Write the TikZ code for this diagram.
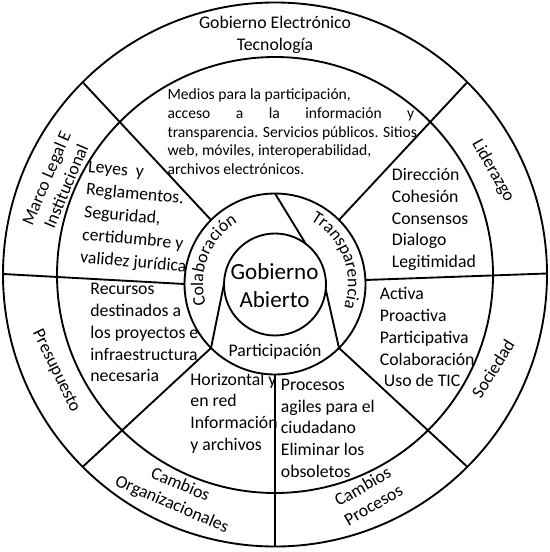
\documentclass[tikz,border=0pt]{standalone}
\usepackage{fontspec}
\setmainfont{Carlito}
\usetikzlibrary{decorations.text}

\newcommand\ringfont{\fontsize{13.3}{16}\selectfont}
\tikzset{every picture/.style={line width=1.4pt}}
\tikzset{
  blocktext/.style={anchor=north west, inner sep=0pt, align=left, font=\fontsize{13.3}{16.3}\selectfont},
  ringtext/.style={anchor=center, inner sep=0pt, align=center, font=\ringfont},
}

\begin{document}
\begin{tikzpicture}[x=0.75pt,y=0.75pt,yscale=-1,xscale=1]
\useasboundingbox (0,0) rectangle (549,552);

%Shape: Circle [id:dp_outer]
\draw (275,274.5) circle (272);
%Shape: Circle [id:dp_second]
\draw (275,275) circle (218);
%Shape: Circle [id:dp_ring]
\draw (275,284) circle (90.5);
%Shape: Circle [id:dp_core]
\draw (275,284.5) circle (51);

%Straight Lines [id:da_ul]
\draw (82.7,82.2) -- (211,220);
%Straight Lines [id:da_ur]
\draw (467.3,82.2) -- (339,220);
%Straight Lines [id:da_ll]
\draw (82.7,466.8) -- (211,348);
%Straight Lines [id:da_lr]
\draw (467.3,466.8) -- (339,348);
%Straight Lines [id:da_l]
\draw (3,274) -- (184.5,284);
%Straight Lines [id:da_r]
\draw (547,273.5) -- (365.3,280);
%Straight Lines [id:da_b]
\draw (275,546.5) -- (275,374.5);

%Straight Lines [id:da_in_top]
\draw (275,193.5) -- (305.2,242.9);
%Straight Lines [id:da_in_left]
\draw (211,348) -- (224,284);
%Straight Lines [id:da_in_right]
\draw (339,348) -- (325.7,289.3);

%Outer ring labels
\node[ringtext] (gobelec) at (275,35) {Gobierno Electrónico\\Tecnología};
\node[ringtext, rotate=67] (marco) at (56,182) {Marco Legal E\\Institucional};
\node[ringtext, rotate=-60] (liderazgo) at (493,171) {Liderazgo};
\node[ringtext, rotate=58] (sociedad) at (493,369) {Sociedad};
\node[ringtext, rotate=-64] (presupuesto) at (56,371) {Presupuesto};
\node[ringtext, rotate=-23] (cambiosorg) at (176,495) {Cambios\\Organizacionales};
\node[ringtext, rotate=30] (cambiosproc) at (368,495.5) {Cambios\\Procesos};

%Middle ring texts
\node[blocktext, font=\fontsize{11.7}{14.1}\selectfont] (medios) at (166.7,87.7) {Medios para la participación,\\\leavevmode\hbox to 185pt{acceso\hfill a\hfill la\hfill información\hfill y}\\transparencia. Servicios públicos. Sitios\\web, móviles, interoperabilidad,\\archivos electrónicos.};
\node[blocktext, font=\fontsize{13.3}{17}\selectfont, rotate=-5] (leyes) at (88,160) {Leyes\ \ y\\Reglamentos.\\Seguridad,\\certidumbre y\\validez jurídica};
\node[blocktext] (direccion) at (391,167.5) {Dirección\\Cohesión\\Consensos\\Dialogo\\Legitimidad};
\node[blocktext] (recursos) at (89.5,282.5) {Recursos\\destinados a\\los proyectos e\\infraestructura\\necesaria};
\node[blocktext] (activa) at (379,286.7) {Activa\\Proactiva\\Participativa\\Colaboración\\\ Uso de TIC};
\node[blocktext] (horizontal) at (189.5,372) {Horizontal y\\en red\\Información\\y archivos};
\node[blocktext] (procesos) at (280,378) {Procesos\\agiles para el\\ciudadano\\Eliminar los\\obsoletos};

%Core
\node[ringtext, font=\fontsize{17.3}{21}\selectfont] (gobabierto) at (274.5,286) {Gobierno\\Abierto};
\node[ringtext] (participacion) at (275,352) {Participación};

\begin{scope}[shift={(275,284)},yscale=-1]
\path [decorate, decoration={text along path, text align=center, text={|\ringfont|Colaboración}}] (199:72) arc [start angle=199, end angle=119, radius=72];
\path [decorate, decoration={text along path, text align=center, text={|\ringfont|Transparencia}}] (63:73) arc [start angle=63, end angle=-21, radius=73];
\end{scope}

\end{tikzpicture}
\end{document}
